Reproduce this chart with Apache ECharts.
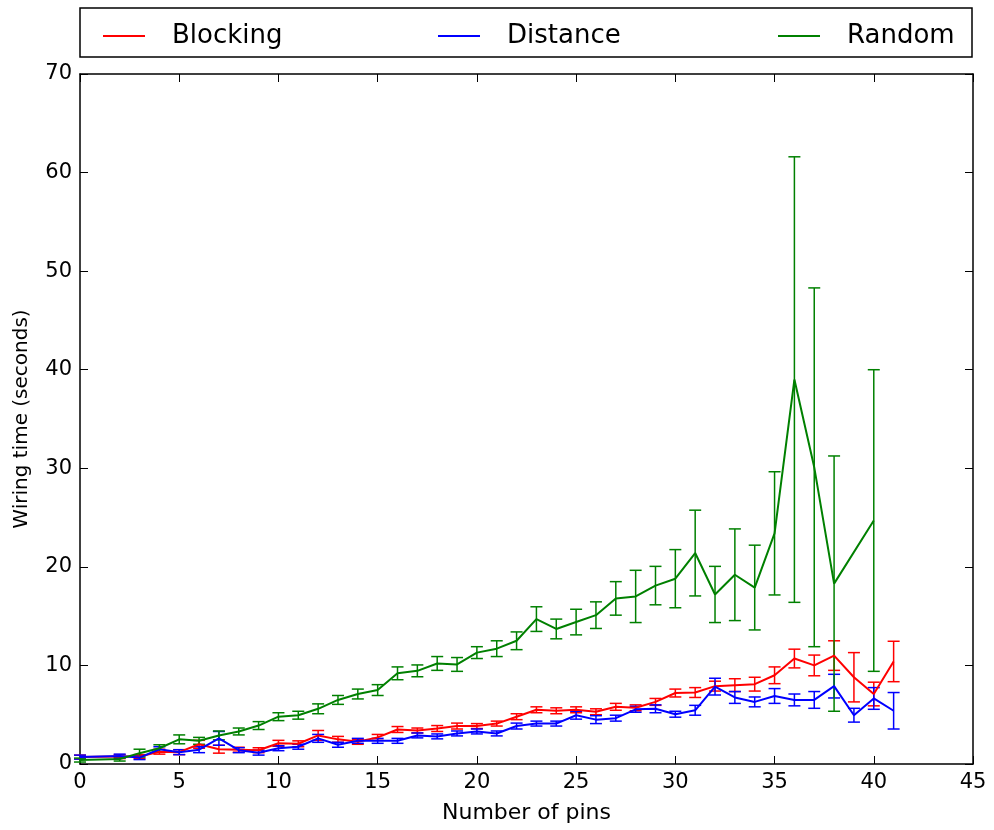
<!DOCTYPE html>
<html>
<head>
<meta charset="utf-8">
<script src="https://cdn.jsdelivr.net/npm/echarts@6/dist/echarts.min.js"></script>
<style>
  body { margin: 0; background: #fff; }
  #chart { width: 994px; height: 830px; }
</style>
</head>
<body>
<div id="chart"></div>
<script>
// number of pins for each series (some pin counts have no measurement)
const pinsBlocking = [0, 2, 3, 4, 5, 6, 7, 8, 9, 10, 11, 12, 13, 14, 15, 16, 17, 18, 19, 20, 21, 22, 23, 24, 25, 26, 27, 28, 29, 30, 31, 32, 33, 34, 35, 36, 37, 38, 39, 40, 41]
const timeBlocking = [0.7, 0.75, 0.75, 1.25, 1.2, 2.0, 1.5, 1.45, 1.4, 2.1, 2.05, 2.9, 2.5, 2.25, 2.7, 3.5, 3.4, 3.6, 3.85, 3.85, 4.1, 4.8, 5.5, 5.4, 5.5, 5.3, 5.8, 5.7, 6.3, 7.2, 7.25, 7.9, 8.0, 8.1, 9.0, 10.7, 10.0, 11.0, 8.8, 7.1, 10.4]
const errBlocking = [0.2, 0.2, 0.2, 0.25, 0.25, 0.4, 0.4, 0.25, 0.25, 0.3, 0.3, 0.5, 0.3, 0.25, 0.3, 0.3, 0.25, 0.3, 0.3, 0.25, 0.25, 0.3, 0.3, 0.3, 0.3, 0.3, 0.35, 0.3, 0.35, 0.4, 0.5, 0.5, 0.65, 0.7, 0.85, 0.95, 1.05, 1.5, 2.5, 1.2, 2.05]

const pinsDistance = [0, 2, 3, 4, 5, 6, 7, 8, 9, 10, 11, 12, 13, 14, 15, 16, 17, 18, 19, 20, 21, 22, 23, 24, 25, 26, 27, 28, 29, 30, 31, 32, 33, 34, 35, 36, 37, 38, 39, 40, 41]
const timeDistance = [0.7, 0.8, 0.65, 1.5, 1.2, 1.45, 2.6, 1.4, 1.15, 1.6, 1.75, 2.6, 1.95, 2.35, 2.35, 2.35, 2.9, 2.8, 3.1, 3.3, 3.1, 3.85, 4.1, 4.1, 4.95, 4.5, 4.65, 5.55, 5.6, 5.05, 5.45, 7.85, 6.75, 6.3, 6.9, 6.5, 6.5, 7.9, 4.95, 6.65, 5.4]
const errDistance = [0.2, 0.2, 0.2, 0.25, 0.25, 0.3, 0.7, 0.25, 0.25, 0.25, 0.25, 0.4, 0.25, 0.25, 0.25, 0.25, 0.25, 0.25, 0.25, 0.25, 0.25, 0.3, 0.25, 0.25, 0.4, 0.4, 0.3, 0.3, 0.4, 0.3, 0.5, 0.85, 0.6, 0.5, 0.75, 0.6, 0.85, 1.2, 0.7, 1.1, 1.85]

const pinsRandom = [0, 2, 3, 4, 5, 6, 7, 8, 9, 10, 11, 12, 13, 14, 15, 16, 17, 18, 19, 20, 21, 22, 23, 24, 25, 26, 27, 28, 29, 30, 31, 32, 33, 34, 35, 36, 37, 38, 40]
const timeRandom = [0.4, 0.5, 1.1, 1.6, 2.5, 2.35, 2.9, 3.3, 3.9, 4.8, 4.95, 5.6, 6.5, 7.1, 7.5, 9.2, 9.45, 10.2, 10.1, 11.3, 11.7, 12.5, 14.7, 13.7, 14.4, 15.1, 16.8, 17.0, 18.1, 18.8, 21.4, 17.2, 19.2, 17.9, 23.4, 39.0, 30.1, 18.3, 24.7]
const errRandom = [0.2, 0.2, 0.4, 0.35, 0.45, 0.35, 0.45, 0.35, 0.4, 0.4, 0.4, 0.5, 0.45, 0.5, 0.55, 0.65, 0.6, 0.7, 0.7, 0.6, 0.8, 0.9, 1.25, 1.0, 1.3, 1.35, 1.7, 2.65, 1.95, 2.95, 4.35, 2.85, 4.65, 4.3, 6.25, 22.6, 18.2, 12.95, 15.3]

const xTicks = [0, 5, 10, 15, 20, 25, 30, 35, 40, 45]
const yTicks = [0, 10, 20, 30, 40, 50, 60, 70]

const font = 'DejaVu Sans'

function linePoints (pins, times) {
  return pins.map((p, i) => [p, times[i]])
}

function barPoints (pins, times, errs) {
  return pins.map((p, i) => [p, times[i] - errs[i], times[i] + errs[i]])
}

function errorBar (color) {
  return function (params, api) {
    const x = api.value(0)
    const lo = api.coord([x, api.value(1)])
    const hi = api.coord([x, api.value(2)])
    const cap = 6
    const style = { stroke: color, lineWidth: 1.5 }
    return {
      type: 'group',
      children: [
        { type: 'line', shape: { x1: lo[0], y1: lo[1], x2: hi[0], y2: hi[1] }, style: style },
        { type: 'line', shape: { x1: lo[0] - cap, y1: lo[1], x2: lo[0] + cap, y2: lo[1] }, style: style },
        { type: 'line', shape: { x1: hi[0] - cap, y1: hi[1], x2: hi[0] + cap, y2: hi[1] }, style: style }
      ]
    }
  }
}

function lineSeries (name, color, data) {
  return {
    name: name,
    type: 'line',
    data: data,
    symbol: 'none',
    color: color,
    lineStyle: { color: color, width: 2 },
    animation: false
  }
}

function barSeries (name, color, data) {
  return {
    name: name + ' err',
    type: 'custom',
    data: data,
    renderItem: errorBar(color),
    encode: { x: 0, y: [1, 2] },
    animation: false,
    silent: true
  }
}

function legendItem (name, color, left) {
  return {
    left: left,
    top: 18,
    data: [{ name: name, icon: 'rect', itemStyle: { color: color } }],
    itemWidth: 42,
    itemHeight: 2,
    textStyle: { fontFamily: font, fontSize: 26, color: '#000', padding: [0, 0, 0, 22] },
    selectedMode: false
  }
}

const axisLine = { show: true, onZero: false, lineStyle: { color: '#000', width: 1.5 } }
const tickStyle = { show: true, inside: true, length: 8, lineStyle: { color: '#000', width: 1 } }

const chart = echarts.init(document.getElementById('chart'))
chart.setOption({
  backgroundColor: '#fff',
  animation: false,
  grid: { left: 80, right: 21, top: 74, bottom: 66 },
  legend: [
    legendItem('Blocking', '#ff0000', 98),
    legendItem('Distance', '#0000ff', 433),
    legendItem('Random', '#008000', 773)
  ],
  graphic: [{
    type: 'rect',
    shape: { x: 80, y: 8, width: 892, height: 49 },
    style: { fill: 'none', stroke: '#000', lineWidth: 1.5 },
    z: 100
  }],
  xAxis: [{
    type: 'value',
    min: 0,
    max: 45,
    interval: 5,
    name: 'Number of pins',
    nameLocation: 'middle',
    nameGap: 38,
    nameTextStyle: { fontFamily: font, fontSize: 22, color: '#000' },
    axisLine: axisLine,
    axisTick: tickStyle,
    axisLabel: {
      fontFamily: font, fontSize: 21, color: '#000', margin: 8,
      formatter: v => xTicks.indexOf(v) >= 0 ? String(v) : ''
    },
    splitLine: { show: false }
  }, {
    type: 'value',
    position: 'top',
    min: 0,
    max: 45,
    interval: 5,
    axisLine: axisLine,
    axisTick: tickStyle,
    axisLabel: { show: false },
    splitLine: { show: false }
  }],
  yAxis: [{
    type: 'value',
    min: 0,
    max: 70,
    interval: 10,
    name: 'Wiring time (seconds)',
    nameLocation: 'middle',
    nameGap: 48,
    nameTextStyle: { fontFamily: font, fontSize: 20, color: '#000' },
    axisLine: axisLine,
    axisTick: tickStyle,
    axisLabel: {
      fontFamily: font, fontSize: 21, color: '#000', margin: 8,
      formatter: v => yTicks.indexOf(v) >= 0 ? String(v) : ''
    },
    splitLine: { show: false }
  }, {
    type: 'value',
    position: 'right',
    min: 0,
    max: 70,
    interval: 10,
    axisLine: axisLine,
    axisTick: tickStyle,
    axisLabel: { show: false },
    splitLine: { show: false }
  }],
  series: [
    lineSeries('Blocking', '#ff0000', linePoints(pinsBlocking, timeBlocking)),
    barSeries('Blocking', '#ff0000', barPoints(pinsBlocking, timeBlocking, errBlocking)),
    lineSeries('Distance', '#0000ff', linePoints(pinsDistance, timeDistance)),
    barSeries('Distance', '#0000ff', barPoints(pinsDistance, timeDistance, errDistance)),
    lineSeries('Random', '#008000', linePoints(pinsRandom, timeRandom)),
    barSeries('Random', '#008000', barPoints(pinsRandom, timeRandom, errRandom))
  ]
})
</script>
</body>
</html>
